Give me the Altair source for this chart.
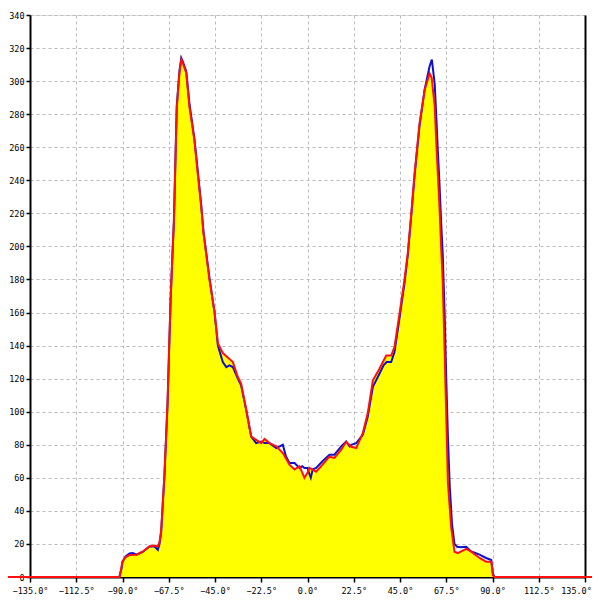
import altair as alt
import pandas as pd

# angle (deg) and value for the red series
red_deg = [-150, -135, -91.5, -90.5, -90, -88.5, -86.6, -83.2, -80.3, -76.9, -74.4, -72.8, -72, -71.2,
           -70.4, -69.6, -68.9, -68.1, -67.4, -66.6, -65.8, -65, -64.4, -63.6, -62.3, -61.4, -60.7,
           -59, -57.4, -55, -53.4, -51.7, -50.6, -47.7, -45.2, -43.6, -41.2, -38.5, -36.3, -33.9,
           -32.3, -29.8, -27.4, -25, -22.5, -20.9, -18.5, -15.2, -12, -8.8, -6.3, -3.9, -2.5, -1.5,
           0, 1, 2.5, 4.2, 7.3, 10.7, 13.1, 16.4, 18.8, 21.3, 23.7, 26.9, 29.3, 31.8, 35, 38.3, 40.7,
           42.3, 44.8, 47.2, 48.8, 50.5, 52.1, 54.5, 57, 59.4, 60.4, 61.9, 62.6, 63.4, 64.2, 65, 65.8,
           66.7, 67.5, 68.3, 69.9, 71.5, 73.1, 77.2, 79.6, 83.7, 86.9, 89.4, 90.2, 91, 135, 150]
red_val = [0, 0, 0, 6, 9.5, 12, 13.3, 13.5, 15.3, 18.5, 19, 18.5, 21, 28,
           45, 62, 82, 105, 135, 168, 192, 215, 244, 284, 305, 313, 311,
           305, 284, 264, 244, 224, 208, 180, 160, 141.5, 135.5, 132.5, 130, 121,
           117, 101, 85, 83, 81, 83.5, 81, 79, 75, 68, 65, 67, 63, 60,
           63, 66, 65, 63.7, 68, 72.8, 72, 77, 81.8, 78.8, 78, 87, 99, 119, 126, 134, 134,
           139, 159.6, 180, 196, 220, 244, 274.5, 294.6, 304.7, 302, 284.5, 264, 244, 224, 200, 178,
           137, 97, 57, 30, 15.3, 14.5, 17, 15.3, 11.5, 9.3, 9.3, 1, 0, 0, 0]

# angle (deg) and value for the blue series
blue_deg = [-135, -91.5, -90.5, -90, -88.5, -86.6, -85, -83.2, -80.3, -76.9, -74.4, -72.8, -72, -71.2,
            -70.4, -69.6, -68.9, -68.1, -67.4, -66.6, -65.8, -65, -64.4, -63.6, -62.3, -61.4, -60.7,
            -59, -57.4, -55, -53.4, -51.7, -50.6, -47.7, -45.2, -43.6, -41.2, -39.5, -38, -36.3, -33.9,
            -32.3, -29.8, -27.4, -25, -22.5, -20.9, -18.5, -15.2, -13.5, -12, -10.5, -8.8, -6.3, -3.9,
            -2.5, -1.5, 0, 1, 1.6, 2.5, 4.2, 7.3, 10.7, 13.1, 16.4, 18.8, 20.5, 21.3, 23.7, 26.9, 29.3,
            31.8, 35, 37, 38.5, 40.7, 42.3, 44.8, 47.2, 48.8, 50.5, 52.1, 54.5, 57, 59.4, 60.5, 61.9,
            62.6, 63.4, 64.2, 65, 65.8, 66.7, 67.5, 68.3, 69.2, 70.3, 71.5, 72.8, 74.5, 77.2, 79.6,
            81.6, 83.7, 86.9, 89.4, 90.2, 91, 135]
blue_val = [0, 0, 5, 9, 12.5, 14.3, 14.5, 13.5, 15, 18.5, 18.5, 16.5, 20, 27,
            44, 61, 81, 104, 134, 167, 192, 215, 245, 285, 306, 314, 312,
            306, 286, 265, 246, 225, 209, 181, 160, 140, 130, 127, 128, 127, 120,
            116, 101, 85, 81, 82, 81, 81, 78, 79, 80, 73, 69, 69, 66,
            67, 66, 66, 62, 60, 65, 66, 70, 74, 74, 79, 82, 79, 80, 81, 86, 97,
            115, 123, 128, 130, 130, 136, 157, 178, 195, 219, 243, 273, 295, 309, 313, 298,
            280, 258, 238, 215, 195, 160, 120, 85, 55, 32, 20, 18.3, 18, 18.3, 15.5,
            14.5, 13.5, 11.5, 10.3, 2, 0, 0]

x_ticks = [-135, -112.5, -90, -67.5, -45, -22.5, 0, 22.5, 45, 67.5, 90, 112.5, 135]
y_ticks = list(range(0, 341, 20))

red_df = pd.DataFrame({"deg": red_deg, "val": red_val})
blue_df = pd.DataFrame({"deg": blue_deg, "val": blue_val})
area_df = red_df[(red_df.deg >= -135) & (red_df.deg <= 135)]

FONT = "DejaVu Sans Mono"

xscale = alt.Scale(domain=[-135, 135], nice=False, zero=False)
yscale = alt.Scale(domain=[0, 340], nice=False)

x_axis = alt.Axis(values=x_ticks, labelExpr="format(datum.value, '.1f') + '°'",
                  grid=True, gridDash=[3, 3], gridColor="#bbbbbb", gridWidth=1,
                  domainColor="black", domainWidth=2, tickColor="black", tickWidth=1.5,
                  tickSize=5, labelPadding=4, labelFont=FONT, labelFontSize=8.5,
                  labelColor="black", title=None, labelFlush=False,
                  labelOffset=alt.ExprRef(expr="datum.value >= 135 ? -9 : 0"))
y_axis = alt.Axis(values=y_ticks, format="d",
                  grid=True, gridDash=[3, 3], gridColor="#bbbbbb", gridWidth=1,
                  domainColor="black", domainWidth=2, tickColor="black", tickWidth=1.5,
                  tickSize=4, labelPadding=2, labelFont=FONT, labelFontSize=8.5,
                  labelColor="black", title=None, labelFlush=False)
y_axis_right = alt.Axis(orient="right", labels=False, ticks=False, grid=False,
                        domainColor="black", domainWidth=2, title=None)

area = alt.Chart(area_df).mark_area(color="#ffff00", opacity=1, clip=True).encode(
    x=alt.X("deg:Q", scale=xscale, axis=x_axis),
    y=alt.Y("val:Q", scale=yscale, axis=y_axis),
)
blue = alt.Chart(blue_df).mark_line(color="#1010c8", strokeWidth=2).encode(
    x=alt.X("deg:Q", scale=xscale),
    y=alt.Y("val:Q", scale=yscale, axis=y_axis_right),
)
red = alt.Chart(red_df).mark_line(color="#ff1010", strokeWidth=2, clip=False).encode(
    x=alt.X("deg:Q", scale=xscale),
    y=alt.Y("val:Q", scale=yscale, axis=None),
)

chart = alt.layer(area, blue, red).resolve_axis(y="independent").properties(
    width=555, height=562,
    autosize=alt.AutoSizeParams(type="none"),
    padding={"left": 22, "top": 7, "right": 7, "bottom": 21},
).configure_view(stroke=None).configure(background="white")

chart.save("out.html", embed_options={"renderer": "svg", "actions": False})
